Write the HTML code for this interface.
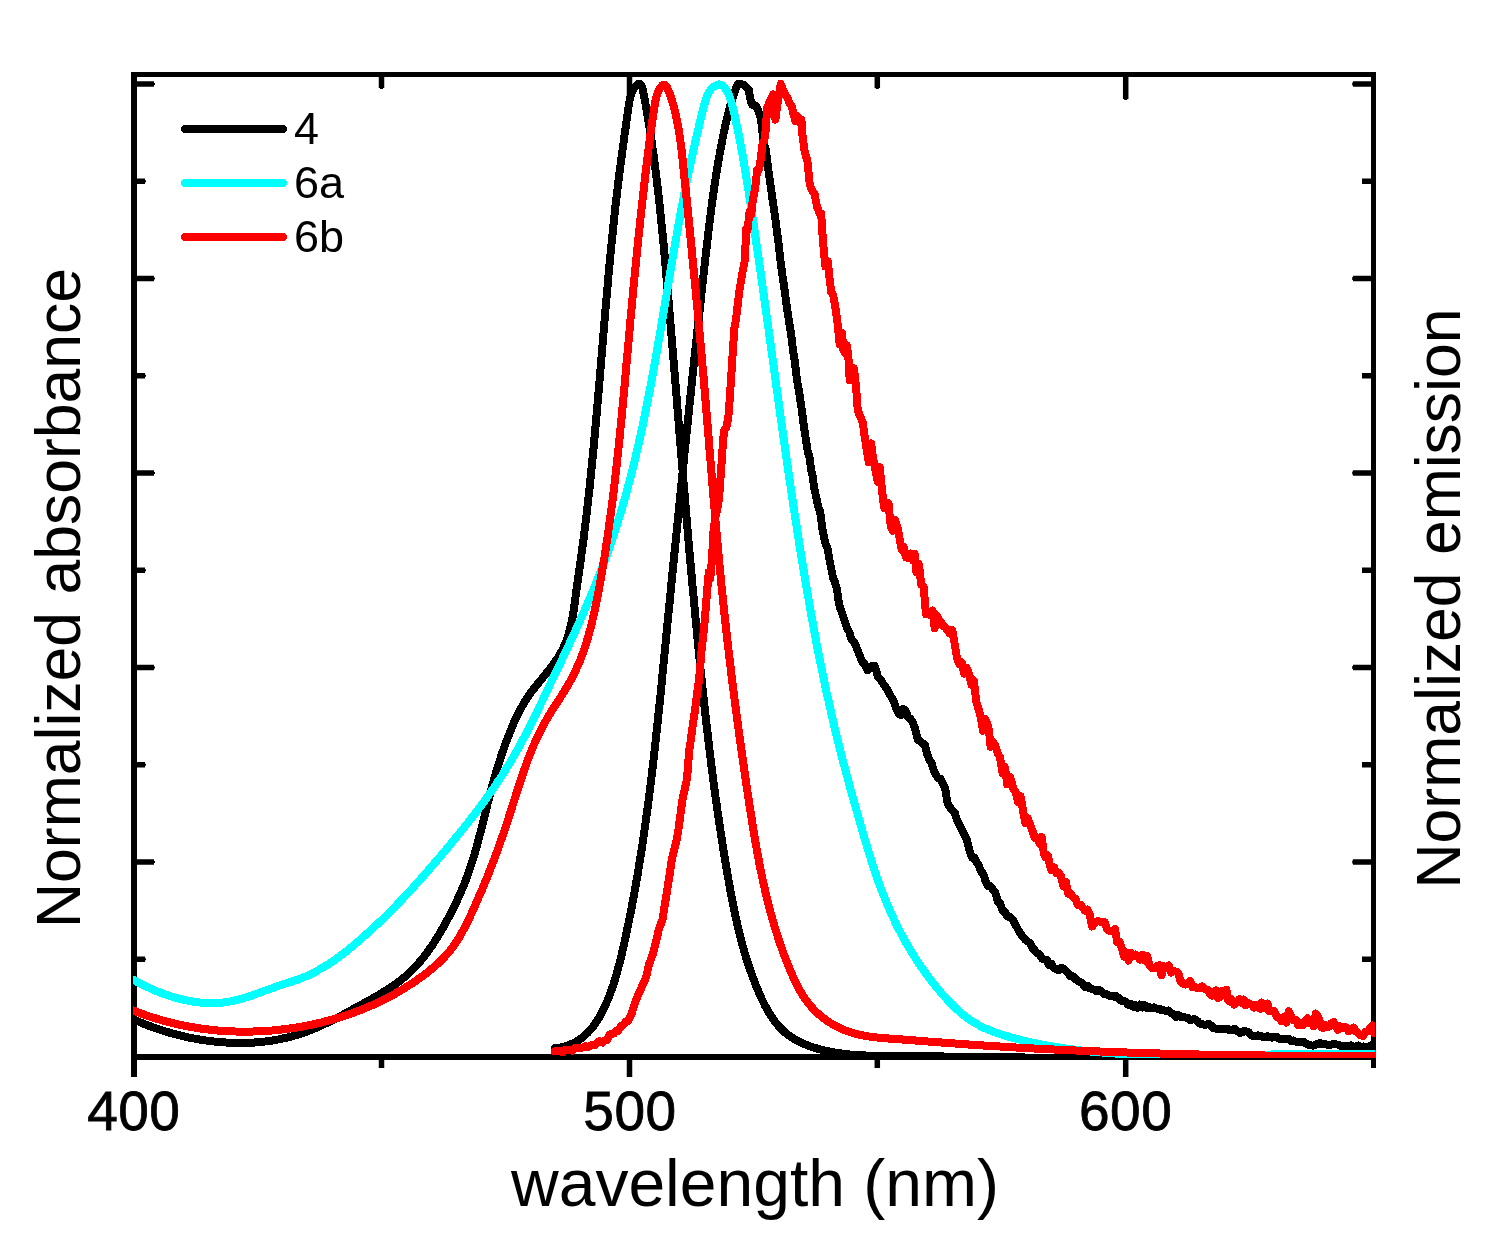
<!DOCTYPE html>
<html><head><meta charset="utf-8"><title>Normalized absorbance and emission</title>
<style>
html,body{margin:0;padding:0;background:#fff;}
body{width:1501px;height:1255px;overflow:hidden;position:relative;font-family:"Liberation Sans",sans-serif;color:#000;}
svg{position:absolute;left:0;top:0;display:block;}
text{font-family:"Liberation Sans",sans-serif;fill:#000;}
.curves path{fill:none;stroke-width:8;stroke-linejoin:round;stroke-linecap:round;shape-rendering:crispEdges;}
.ticks rect{fill:#000;}
.tl{stroke:#000;stroke-width:0.8;letter-spacing:0.5px;}
.legend line{stroke-width:8;stroke-linecap:round;shape-rendering:crispEdges;}
</style></head><body>
<svg width="1501" height="1255" viewBox="0 0 1501 1255">
<defs><clipPath id="clip"><rect x="133" y="60" width="1242.5" height="998"/></clipPath></defs>
<g class="frame" fill="#000"><rect x="131" y="72" width="1245" height="5"/><rect x="131" y="1054" width="1245" height="6"/><rect x="131" y="72" width="6" height="988"/><rect x="1371" y="72" width="5" height="988"/></g>
<g class="ticks"><rect x="136.00" y="81.25" width="18.00" height="5.50"/><rect x="154.00" y="83.00" width="1.00" height="2.00"/><rect x="1353.00" y="81.25" width="19.00" height="5.50"/><rect x="1352.20" y="82.50" width="0.80" height="3.00"/><rect x="136.00" y="178.50" width="9.00" height="5.50"/><rect x="145.00" y="180.25" width="1.00" height="2.00"/><rect x="1362.00" y="178.50" width="10.00" height="5.50"/><rect x="136.00" y="275.75" width="18.00" height="5.50"/><rect x="154.00" y="277.50" width="1.00" height="2.00"/><rect x="1353.00" y="275.75" width="19.00" height="5.50"/><rect x="1352.20" y="277.00" width="0.80" height="3.00"/><rect x="136.00" y="373.00" width="9.00" height="5.50"/><rect x="145.00" y="374.75" width="1.00" height="2.00"/><rect x="1362.00" y="373.00" width="10.00" height="5.50"/><rect x="136.00" y="470.25" width="18.00" height="5.50"/><rect x="154.00" y="472.00" width="1.00" height="2.00"/><rect x="1353.00" y="470.25" width="19.00" height="5.50"/><rect x="1352.20" y="471.50" width="0.80" height="3.00"/><rect x="136.00" y="567.50" width="9.00" height="5.50"/><rect x="145.00" y="569.25" width="1.00" height="2.00"/><rect x="1362.00" y="567.50" width="10.00" height="5.50"/><rect x="136.00" y="664.75" width="18.00" height="5.50"/><rect x="154.00" y="666.50" width="1.00" height="2.00"/><rect x="1353.00" y="664.75" width="19.00" height="5.50"/><rect x="1352.20" y="666.00" width="0.80" height="3.00"/><rect x="136.00" y="762.00" width="9.00" height="5.50"/><rect x="145.00" y="763.75" width="1.00" height="2.00"/><rect x="1362.00" y="762.00" width="10.00" height="5.50"/><rect x="136.00" y="859.25" width="18.00" height="5.50"/><rect x="154.00" y="861.00" width="1.00" height="2.00"/><rect x="1353.00" y="859.25" width="19.00" height="5.50"/><rect x="1352.20" y="860.50" width="0.80" height="3.00"/><rect x="136.00" y="956.50" width="9.00" height="5.50"/><rect x="145.00" y="958.25" width="1.00" height="2.00"/><rect x="1362.00" y="956.50" width="10.00" height="5.50"/><rect x="131.00" y="1059.00" width="6.00" height="18.00"/><rect x="378.75" y="1059.00" width="5.50" height="9.00"/><rect x="378.75" y="76.00" width="5.50" height="12.00"/><rect x="380.00" y="88.00" width="3.00" height="1.00"/><rect x="626.75" y="1059.00" width="5.50" height="18.00"/><rect x="626.75" y="76.00" width="5.50" height="23.00"/><rect x="628.00" y="99.00" width="3.00" height="1.00"/><rect x="874.55" y="1059.00" width="5.50" height="9.00"/><rect x="874.55" y="76.00" width="5.50" height="12.00"/><rect x="875.80" y="88.00" width="3.00" height="1.00"/><rect x="1122.95" y="1059.00" width="5.50" height="18.00"/><rect x="1122.95" y="76.00" width="5.50" height="23.00"/><rect x="1124.20" y="99.00" width="3.00" height="1.00"/><rect x="1371.00" y="1059.00" width="5.00" height="9.00"/></g>
<g class="curves" clip-path="url(#clip)">
<path d="M133.3,1019.3L136.0,1020.5L138.6,1021.6L141.3,1022.8L144.0,1023.9L146.8,1025.0L149.5,1026.0L152.3,1027.0L155.1,1028.0L157.9,1029.0L160.7,1029.9L163.5,1030.8L166.4,1031.7L169.3,1032.6L172.1,1033.4L175.0,1034.2L178.0,1034.9L180.9,1035.7L183.8,1036.4L186.8,1037.0L189.7,1037.7L192.7,1038.3L195.7,1038.8L198.7,1039.4L201.7,1039.9L204.7,1040.3L207.7,1040.7L210.7,1041.1L213.7,1041.5L216.7,1041.8L219.8,1042.1L222.8,1042.3L225.8,1042.5L228.9,1042.7L231.9,1042.8L234.9,1042.9L237.9,1043.0L241.0,1043.0L244.0,1042.9L247.0,1042.8L250.0,1042.7L253.0,1042.6L256.0,1042.4L259.0,1042.1L262.0,1041.8L265.0,1041.5L268.0,1041.1L270.9,1040.7L273.9,1040.3L276.8,1039.7L279.7,1039.2L282.6,1038.6L285.5,1037.9L288.4,1037.2L291.3,1036.5L294.2,1035.7L297.0,1034.9L299.8,1034.0L302.6,1033.1L305.4,1032.1L308.2,1031.0L310.9,1030.0L313.7,1028.9L316.4,1027.7L319.1,1026.5L321.8,1025.3L324.5,1024.0L327.2,1022.8L329.9,1021.5L332.6,1020.1L335.2,1018.8L337.9,1017.4L340.6,1016.0L343.2,1014.6L345.9,1013.1L348.5,1011.7L351.2,1010.3L353.8,1008.8L356.5,1007.3L359.1,1005.9L361.8,1004.4L364.5,1002.9L367.1,1001.5L369.8,1000.0L372.5,998.5L375.1,997.0L377.7,995.5L380.3,993.9L382.9,992.3L385.5,990.8L388.0,989.1L390.6,987.5L393.0,985.8L395.5,984.1L397.9,982.3L400.3,980.5L402.6,978.7L404.9,976.8L407.1,974.8L409.3,972.8L411.4,970.8L413.5,968.7L415.5,966.5L417.5,964.4L419.4,962.1L421.4,959.9L423.2,957.6L425.0,955.2L426.8,952.9L428.6,950.5L430.3,948.0L432.0,945.6L433.6,943.1L435.3,940.6L436.9,938.0L438.4,935.5L440.0,932.9L441.5,930.3L443.0,927.7L444.5,925.0L445.9,922.4L447.4,919.7L448.8,917.1L450.2,914.4L451.6,911.7L452.9,909.0L454.3,906.3L455.6,903.6L456.9,900.9L458.1,898.1L459.4,895.4L460.6,892.6L461.8,889.9L463.0,887.1L464.1,884.3L465.2,881.6L466.3,878.8L467.3,876.0L468.3,873.1L469.3,870.3L470.3,867.5L471.2,864.7L472.1,861.8L473.0,859.0L473.9,856.1L474.8,853.2L475.6,850.4L476.4,847.5L477.2,844.6L478.0,841.7L478.8,838.9L479.5,836.0L480.3,833.1L481.0,830.2L481.7,827.3L482.5,824.4L483.2,821.5L483.9,818.6L484.6,815.7L485.4,812.8L486.1,809.9L486.8,807.0L487.5,804.0L488.3,801.1L489.0,798.2L489.7,795.3L490.5,792.4L491.3,789.5L492.0,786.6L492.8,783.7L493.6,780.9L494.5,778.0L495.3,775.1L496.1,772.2L497.0,769.3L497.9,766.5L498.8,763.6L499.7,760.7L500.6,757.9L501.5,755.1L502.5,752.2L503.5,749.4L504.5,746.6L505.5,743.8L506.5,741.0L507.6,738.2L508.7,735.4L509.8,732.6L510.9,729.8L512.0,727.1L513.2,724.3L514.4,721.6L515.7,718.9L516.9,716.2L518.3,713.6L519.6,710.9L521.0,708.3L522.5,705.7L524.0,703.1L525.5,700.6L527.1,698.1L528.8,695.6L530.5,693.2L532.3,690.7L534.1,688.4L536.0,686.0L537.9,683.6L539.8,681.3L541.7,679.0L543.6,676.6L545.5,674.3L547.4,671.9L549.3,669.6L551.1,667.2L552.9,664.8L554.6,662.4L556.3,660.0L558.0,657.5L559.5,655.0L561.0,652.4L562.4,649.8L563.7,647.2L564.8,644.5L566.0,641.7L567.0,638.9L567.9,636.1L568.8,633.3L569.6,630.4L570.4,627.4L571.0,624.5L571.7,621.5L572.3,618.5L572.8,615.5L573.3,612.5L573.8,609.5L574.3,606.5L574.7,603.4L575.1,600.4L575.5,597.3L575.9,594.3L576.3,591.3L576.7,588.3L577.1,585.3L577.5,582.3L578.0,579.3L578.4,576.3L578.8,573.3L579.2,570.4L579.7,567.4L580.1,564.5L580.5,561.5L580.9,558.6L581.3,555.6L581.7,552.7L582.1,549.7L582.5,546.7L582.9,543.8L583.3,540.8L583.7,537.9L584.0,534.9L584.4,531.9L584.8,529.0L585.2,526.0L585.5,523.0L585.9,520.1L586.2,517.1L586.6,514.1L586.9,511.2L587.3,508.2L587.6,505.2L587.9,502.3L588.3,499.3L588.6,496.3L588.9,493.3L589.3,490.4L589.6,487.4L589.9,484.4L590.2,481.4L590.5,478.5L590.8,475.5L591.1,472.5L591.4,469.5L591.7,466.5L592.0,463.6L592.3,460.6L592.6,457.6L592.9,454.6L593.2,451.6L593.5,448.6L593.8,445.6L594.0,442.7L594.3,439.7L594.6,436.7L594.9,433.7L595.1,430.7L595.4,427.7L595.7,424.7L596.0,421.8L596.2,418.8L596.5,415.8L596.7,412.8L597.0,409.8L597.3,406.8L597.5,403.8L597.8,400.8L598.0,397.8L598.3,394.8L598.6,391.8L598.8,388.9L599.1,385.9L599.3,382.9L599.6,379.9L599.8,376.9L600.1,373.9L600.3,370.9L600.6,367.9L600.8,364.9L601.1,361.9L601.3,358.9L601.6,355.9L601.8,352.9L602.1,349.9L602.3,347.0L602.6,344.0L602.8,341.0L603.1,338.0L603.3,335.0L603.6,332.0L603.8,329.0L604.1,326.0L604.3,323.0L604.6,320.0L604.8,317.0L605.1,314.0L605.4,311.0L605.6,308.1L605.9,305.1L606.1,302.1L606.4,299.1L606.7,296.1L606.9,293.1L607.2,290.1L607.5,287.1L607.7,284.1L608.0,281.1L608.3,278.2L608.5,275.2L608.8,272.2L609.1,269.2L609.4,266.2L609.6,263.2L609.9,260.2L610.2,257.3L610.5,254.3L610.8,251.3L611.1,248.3L611.4,245.3L611.7,242.3L612.0,239.4L612.3,236.4L612.6,233.4L612.9,230.4L613.2,227.4L613.5,224.5L613.8,221.5L614.1,218.5L614.5,215.5L614.8,212.6L615.1,209.6L615.4,206.6L615.8,203.6L616.1,200.7L616.5,197.7L616.8,194.7L617.2,191.8L617.5,188.8L617.9,185.8L618.2,182.9L618.6,179.9L619.0,176.9L619.3,174.0L619.7,171.0L620.1,168.0L620.5,165.1L620.9,162.1L621.3,159.2L621.7,156.2L622.1,153.2L622.5,150.3L622.9,147.3L623.3,144.3L623.7,141.4L624.1,138.4L624.5,135.4L624.9,132.4L625.4,129.4L625.8,126.4L626.2,123.4L626.6,120.3L627.1,117.3L627.5,114.3L627.9,111.2L628.3,108.2L628.8,105.1L629.3,102.1L629.9,99.1L630.7,96.2L631.6,93.4L632.7,90.7L634.1,88.2L635.8,85.9L637.8,84.1L639.8,84.1L641.5,85.8L642.5,88.4L643.2,91.4L643.7,94.4L644.3,97.5L644.9,100.5L645.4,103.5L646.0,106.6L646.5,109.6L647.0,112.6L647.5,115.6L648.0,118.6L648.5,121.6L649.0,124.6L649.5,127.6L650.0,130.6L650.4,133.5L650.9,136.5L651.3,139.5L651.8,142.5L652.2,145.5L652.6,148.4L653.1,151.4L653.5,154.4L653.9,157.3L654.3,160.3L654.7,163.2L655.0,166.2L655.4,169.2L655.8,172.1L656.2,175.1L656.5,178.0L656.9,181.0L657.2,184.0L657.6,186.9L657.9,189.9L658.3,192.9L658.6,195.8L658.9,198.8L659.3,201.8L659.6,204.7L659.9,207.7L660.2,210.7L660.5,213.6L660.8,216.6L661.1,219.6L661.4,222.6L661.7,225.6L662.0,228.5L662.3,231.5L662.6,234.5L662.9,237.5L663.2,240.5L663.5,243.5L663.7,246.4L664.0,249.4L664.3,252.4L664.6,255.4L664.8,258.4L665.1,261.4L665.4,264.4L665.7,267.4L665.9,270.4L666.2,273.4L666.4,276.4L666.7,279.3L667.0,282.3L667.2,285.3L667.5,288.3L667.7,291.3L668.0,294.3L668.3,297.3L668.5,300.3L668.8,303.3L669.0,306.3L669.3,309.3L669.5,312.3L669.8,315.3L670.0,318.2L670.3,321.2L670.5,324.2L670.8,327.2L671.0,330.2L671.3,333.2L671.5,336.2L671.8,339.2L672.0,342.2L672.3,345.2L672.5,348.2L672.8,351.1L673.0,354.1L673.3,357.1L673.5,360.1L673.8,363.1L674.0,366.1L674.3,369.1L674.5,372.1L674.8,375.1L675.0,378.1L675.2,381.1L675.5,384.0L675.7,387.0L676.0,390.0L676.2,393.0L676.5,396.0L676.7,399.0L677.0,402.0L677.2,405.0L677.4,408.0L677.7,410.9L677.9,413.9L678.2,416.9L678.4,419.9L678.7,422.9L678.9,425.9L679.1,428.9L679.4,431.9L679.6,434.8L679.9,437.8L680.1,440.8L680.4,443.8L680.6,446.8L680.9,449.8L681.1,452.8L681.3,455.8L681.6,458.8L681.8,461.7L682.1,464.7L682.3,467.7L682.6,470.7L682.8,473.7L683.1,476.7L683.3,479.7L683.6,482.7L683.8,485.6L684.1,488.6L684.3,491.6L684.6,494.6L684.8,497.6L685.1,500.6L685.3,503.6L685.6,506.5L685.8,509.5L686.1,512.5L686.3,515.5L686.6,518.5L686.8,521.5L687.1,524.5L687.4,527.5L687.6,530.4L687.9,533.4L688.1,536.4L688.4,539.4L688.6,542.4L688.9,545.4L689.2,548.4L689.4,551.3L689.7,554.3L690.0,557.3L690.2,560.3L690.5,563.3L690.8,566.3L691.0,569.3L691.3,572.2L691.6,575.2L691.8,578.2L692.1,581.2L692.4,584.2L692.6,587.2L692.9,590.2L693.2,593.1L693.5,596.1L693.7,599.1L694.0,602.1L694.3,605.1L694.6,608.1L694.9,611.1L695.1,614.0L695.4,617.0L695.7,620.0L696.0,623.0L696.3,626.0L696.6,629.0L696.9,631.9L697.1,634.9L697.4,637.9L697.7,640.9L698.0,643.9L698.3,646.9L698.6,649.9L698.9,652.8L699.2,655.8L699.5,658.8L699.8,661.8L700.1,664.8L700.4,667.8L700.7,670.8L701.0,673.7L701.3,676.7L701.7,679.7L702.0,682.7L702.3,685.7L702.6,688.7L702.9,691.6L703.2,694.6L703.6,697.6L703.9,700.6L704.2,703.6L704.5,706.6L704.9,709.6L705.2,712.5L705.5,715.5L705.9,718.5L706.2,721.5L706.5,724.5L706.9,727.5L707.2,730.4L707.6,733.4L707.9,736.4L708.3,739.4L708.6,742.4L709.0,745.3L709.3,748.3L709.7,751.3L710.0,754.3L710.4,757.3L710.8,760.2L711.1,763.2L711.5,766.2L711.9,769.2L712.3,772.2L712.7,775.1L713.0,778.1L713.4,781.1L713.8,784.1L714.2,787.0L714.6,790.0L715.0,793.0L715.4,796.0L715.8,798.9L716.2,801.9L716.7,804.9L717.1,807.8L717.5,810.8L717.9,813.8L718.4,816.7L718.8,819.7L719.2,822.7L719.7,825.6L720.1,828.6L720.6,831.6L721.0,834.5L721.5,837.5L721.9,840.4L722.4,843.4L722.9,846.4L723.3,849.3L723.8,852.3L724.3,855.2L724.8,858.2L725.3,861.1L725.8,864.1L726.3,867.0L726.8,870.0L727.3,872.9L727.8,875.9L728.3,878.8L728.8,881.8L729.3,884.7L729.9,887.7L730.4,890.6L731.0,893.5L731.5,896.5L732.1,899.4L732.6,902.3L733.2,905.3L733.8,908.2L734.4,911.1L735.0,914.1L735.7,917.0L736.3,919.9L737.0,922.8L737.6,925.7L738.3,928.6L739.0,931.6L739.7,934.5L740.5,937.4L741.2,940.3L742.0,943.2L742.8,946.1L743.6,948.9L744.4,951.8L745.2,954.7L746.1,957.6L747.0,960.5L747.9,963.3L748.9,966.2L749.8,969.0L750.8,971.9L751.9,974.7L752.9,977.6L754.0,980.4L755.1,983.3L756.2,986.1L757.4,988.9L758.5,991.7L759.8,994.5L761.0,997.3L762.3,1000.1L763.7,1002.9L765.0,1005.6L766.5,1008.3L768.0,1010.9L769.5,1013.5L771.1,1016.0L772.8,1018.5L774.5,1020.9L776.3,1023.2L778.2,1025.5L780.1,1027.7L782.2,1029.8L784.3,1031.8L786.5,1033.7L788.8,1035.4L791.2,1037.1L793.7,1038.7L796.2,1040.2L798.9,1041.6L801.5,1042.9L804.3,1044.1L807.1,1045.2L809.9,1046.3L812.8,1047.2L815.7,1048.1L818.6,1049.0L821.5,1049.7L824.5,1050.4L827.4,1051.1L830.4,1051.7L833.3,1052.2L836.3,1052.7L839.3,1053.2L842.3,1053.6L845.2,1053.9L848.2,1054.3L851.2,1054.6L854.2,1054.8L857.2,1055.0L860.2,1055.2L863.1,1055.4L866.1,1055.5L869.1,1055.6L872.1,1055.7L875.1,1055.8L878.1,1055.9L881.1,1055.9L884.1,1056.0L887.1,1056.0L890.1,1056.0L893.1,1056.0L896.2,1056.1L899.2,1056.1L902.2,1056.1L905.2,1056.1L908.2,1056.1L911.2,1056.2L914.2,1056.2L917.2,1056.2L920.2,1056.2L923.2,1056.3L926.2,1056.3L929.2,1056.3L932.2,1056.3L935.2,1056.4L938.2,1056.4L941.2,1056.4L944.2,1056.5L947.2,1056.5L950.2,1056.5L953.2,1056.6L956.2,1056.6L959.1,1056.6L962.1,1056.7L965.1,1056.7L968.1,1056.7L971.1,1056.8L974.1,1056.8L977.1,1056.8L980.1,1056.9L983.1,1056.9L986.1,1057.0L989.1,1057.0L992.1,1057.0L995.1,1057.1L998.1,1057.1L1001.1,1057.1L1004.1,1057.2L1007.1,1057.2L1010.1,1057.3L1013.1,1057.3L1016.1,1057.3L1019.1,1057.4L1022.1,1057.4L1025.1,1057.5L1028.1,1057.5L1031.0,1057.6L1034.0,1057.6L1037.0,1057.6L1040.0,1057.7L1043.0,1057.7L1046.0,1057.8L1049.0,1057.8L1052.0,1057.8L1055.0,1057.9L1058.0,1057.9L1061.0,1058.0L1064.0,1058.0L1067.0,1058.0L1070.0,1058.1L1073.0,1058.1L1076.0,1058.2L1078.9,1058.2L1081.9,1058.2L1084.9,1058.3L1087.9,1058.3L1090.9,1058.4L1093.9,1058.4L1096.9,1058.4L1099.9,1058.5L1102.9,1058.5L1105.9,1058.5L1108.9,1058.6L1111.9,1058.6L1114.9,1058.6L1117.9,1058.7L1120.9,1058.7L1123.9,1058.7L1126.8,1058.8L1129.8,1058.8L1132.8,1058.8L1135.8,1058.9L1138.8,1058.9L1141.8,1058.9L1144.8,1058.9L1147.8,1059.0L1150.8,1059.0L1153.8,1059.0L1156.8,1059.0L1159.8,1059.1L1162.8,1059.1L1165.8,1059.1L1168.8,1059.1L1171.8,1059.2L1174.8,1059.2L1177.8,1059.2L1180.8,1059.2L1183.8,1059.2L1186.7,1059.2L1189.7,1059.2L1192.7,1059.3L1195.7,1059.3L1198.7,1059.3L1201.7,1059.3L1204.7,1059.3L1207.7,1059.3L1210.7,1059.3L1213.7,1059.3L1216.7,1059.3L1219.7,1059.3L1222.7,1059.3L1225.7,1059.3L1228.7,1059.3L1231.7,1059.3L1234.7,1059.3L1237.7,1059.3L1240.7,1059.3L1243.7,1059.3L1246.7,1059.3L1249.7,1059.2L1252.7,1059.2L1255.7,1059.2L1258.7,1059.2L1261.7,1059.2L1264.7,1059.1L1267.7,1059.1L1270.7,1059.1L1273.7,1059.1L1276.7,1059.0L1279.7,1059.0L1282.7,1059.0L1285.7,1058.9L1288.7,1058.9L1291.7,1058.9L1294.7,1058.8L1297.8,1058.8L1300.8,1058.8L1303.8,1058.7L1306.8,1058.7L1309.8,1058.6L1312.8,1058.6L1315.8,1058.5L1318.8,1058.5L1321.8,1058.4L1324.8,1058.3L1327.8,1058.3L1330.8,1058.2L1333.8,1058.1L1336.8,1058.1L1339.9,1058.0L1342.9,1057.9L1345.9,1057.9L1348.9,1057.8L1351.9,1057.7L1354.9,1057.6L1357.9,1057.5L1360.9,1057.5L1363.9,1057.4L1367.0,1057.3L1370.0,1057.2L1373.0,1057.1L1376.0,1057.0" stroke="#000"/>
<path d="M554.7,1048.3L558.1,1047.9L561.3,1047.3L564.5,1046.5L567.5,1045.5L570.3,1044.5L573.1,1043.2L575.7,1041.9L578.2,1040.4L580.6,1038.7L582.9,1037.0L585.1,1035.1L587.2,1033.2L589.2,1031.1L591.1,1029.0L592.9,1026.7L594.6,1024.4L596.3,1022.0L597.9,1019.6L599.4,1017.1L600.8,1014.5L602.2,1011.9L603.5,1009.2L604.8,1006.5L606.0,1003.8L607.2,1001.1L608.4,998.3L609.5,995.5L610.5,992.7L611.5,989.9L612.5,987.1L613.5,984.3L614.4,981.4L615.3,978.6L616.1,975.7L617.0,972.8L617.8,969.9L618.5,967.0L619.3,964.1L620.0,961.2L620.8,958.3L621.5,955.3L622.2,952.4L622.8,949.5L623.5,946.5L624.2,943.6L624.8,940.7L625.4,937.7L626.1,934.8L626.7,931.8L627.3,928.9L627.9,926.0L628.5,923.0L629.1,920.1L629.7,917.1L630.3,914.2L630.9,911.2L631.5,908.3L632.0,905.3L632.6,902.4L633.1,899.4L633.7,896.5L634.2,893.5L634.8,890.6L635.3,887.6L635.8,884.7L636.3,881.7L636.9,878.8L637.4,875.8L637.9,872.9L638.4,869.9L638.8,866.9L639.3,864.0L639.8,861.0L640.3,858.1L640.7,855.1L641.2,852.2L641.7,849.2L642.1,846.2L642.6,843.3L643.0,840.3L643.5,837.4L643.9,834.4L644.3,831.4L644.7,828.5L645.2,825.5L645.6,822.5L646.0,819.6L646.4,816.6L646.8,813.7L647.2,810.7L647.6,807.7L648.0,804.8L648.4,801.8L648.8,798.8L649.2,795.9L649.5,792.9L649.9,789.9L650.3,787.0L650.6,784.0L651.0,781.0L651.4,778.0L651.7,775.1L652.1,772.1L652.4,769.1L652.8,766.2L653.1,763.2L653.5,760.2L653.8,757.3L654.1,754.3L654.5,751.3L654.8,748.3L655.1,745.4L655.5,742.4L655.8,739.4L656.1,736.4L656.4,733.5L656.8,730.5L657.1,727.5L657.4,724.5L657.7,721.6L658.0,718.6L658.3,715.6L658.6,712.6L658.9,709.7L659.3,706.7L659.6,703.7L659.9,700.7L660.2,697.8L660.5,694.8L660.8,691.8L661.1,688.8L661.4,685.9L661.7,682.9L662.0,679.9L662.2,676.9L662.5,674.0L662.8,671.0L663.1,668.0L663.4,665.0L663.7,662.0L664.0,659.1L664.3,656.1L664.6,653.1L664.9,650.1L665.2,647.2L665.5,644.2L665.8,641.2L666.1,638.2L666.4,635.2L666.6,632.3L666.9,629.3L667.2,626.3L667.5,623.3L667.8,620.4L668.1,617.4L668.4,614.4L668.7,611.4L669.0,608.4L669.3,605.5L669.6,602.5L669.9,599.5L670.2,596.5L670.5,593.5L670.8,590.6L671.0,587.6L671.3,584.6L671.6,581.6L671.9,578.7L672.2,575.7L672.5,572.7L672.8,569.7L673.1,566.7L673.4,563.8L673.7,560.8L674.0,557.8L674.3,554.8L674.6,551.8L674.9,548.9L675.2,545.9L675.5,542.9L675.8,539.9L676.1,537.0L676.4,534.0L676.7,531.0L677.0,528.0L677.3,525.0L677.6,522.1L677.9,519.1L678.2,516.1L678.5,513.1L678.8,510.1L679.1,507.2L679.4,504.2L679.7,501.2L680.0,498.2L680.3,495.2L680.6,492.3L680.9,489.3L681.2,486.3L681.5,483.3L681.8,480.4L682.1,477.4L682.4,474.4L682.7,471.4L683.0,468.4L683.3,465.5L683.6,462.5L683.9,459.5L684.2,456.5L684.5,453.5L684.8,450.6L685.1,447.6L685.4,444.6L685.7,441.6L686.0,438.7L686.3,435.7L686.6,432.7L686.9,429.7L687.2,426.7L687.6,423.8L687.9,420.8L688.2,417.8L688.5,414.8L688.8,411.8L689.1,408.9L689.4,405.9L689.7,402.9L690.0,399.9L690.3,396.9L690.7,394.0L691.0,391.0L691.3,388.0L691.6,385.0L691.9,382.1L692.2,379.1L692.5,376.1L692.9,373.1L693.2,370.1L693.5,367.2L693.8,364.2L694.1,361.2L694.4,358.2L694.8,355.2L695.1,352.3L695.4,349.3L695.7,346.3L696.0,343.3L696.4,340.4L696.7,337.4L697.0,334.4L697.3,331.4L697.6,328.4L698.0,325.5L698.3,322.5L698.6,319.5L698.9,316.5L699.3,313.6L699.6,310.6L699.9,307.6L700.2,304.6L700.6,301.6L700.9,298.7L701.2,295.7L701.5,292.7L701.9,289.7L702.2,286.8L702.5,283.8L702.9,280.8L703.2,277.8L703.5,274.8L703.9,271.9L704.2,268.9L704.5,265.9L704.9,262.9L705.2,260.0L705.5,257.0L705.9,254.0L706.2,251.0L706.6,248.1L706.9,245.1L707.2,242.1L707.6,239.1L707.9,236.2L708.3,233.2L708.6,230.2L709.0,227.2L709.4,224.3L709.7,221.3L710.1,218.3L710.5,215.3L710.8,212.4L711.2,209.4L711.6,206.4L712.0,203.5L712.4,200.5L712.8,197.5L713.2,194.6L713.6,191.6L714.1,188.7L714.5,185.7L714.9,182.7L715.4,179.8L715.8,176.8L716.3,173.9L716.8,170.9L717.3,168.0L717.7,165.0L718.2,162.1L718.8,159.1L719.3,156.2L719.8,153.2L720.3,150.3L720.9,147.4L721.5,144.4L722.0,141.5L722.6,138.6L723.2,135.6L723.8,132.7L724.4,129.8L725.1,126.9L725.7,123.9L726.4,121.0L727.1,118.1L727.8,115.2L728.5,112.3L729.2,109.4L730.0,106.5L730.8,103.7L731.6,100.8L732.5,98.0L733.5,95.2L734.4,92.4L735.4,89.6L736.5,86.8L737.6,84.1L741.6,84.3L743.2,84.8L744.7,85.4L746.8,87.8L748.9,90.2L750.1,98.0L751.9,104.6L754.0,105.2L756.1,105.8L758.5,111.2L760.9,118.4L762.1,128.0L762.8,136.4L763.6,141.7L766.0,150.8L768.4,169.9L770.5,184.9L772.6,199.9L774.7,214.1L776.8,229.9L778.6,243.6L780.4,260.0L782.5,275.8L784.6,290.0L786.7,306.0L788.8,320.0L790.9,332.5L793.0,350.0L795.0,363.0L797.0,380.0L799.4,393.9L801.8,410.0L803.9,426.5L806.0,440.0L807.7,451.2L809.5,457.2L811.2,470.0L812.7,476.6L814.2,488.0L816.8,500.0L818.5,507.6L820.2,512.0L822.6,530.0L825.0,542.2L827.5,548.0L829.5,560.0L831.3,568.9L833.1,578.0L835.1,582.6L837.1,590.0L838.6,601.2L840.1,608.0L842.2,613.4L844.3,620.0L846.8,627.4L849.3,632.0L851.2,639.0L853.2,641.2L855.1,644.0L857.5,650.1L859.9,656.0L862.4,662.2L865.0,664.4L867.5,670.4L869.9,668.5L872.2,666.1L874.6,665.6L876.4,671.2L878.2,677.5L880.6,679.8L883.0,683.5L885.4,687.0L887.8,690.3L890.2,695.2L892.6,699.0L894.6,703.9L896.5,709.1L898.5,713.4L900.9,715.1L903.3,709.0L905.7,711.0L908.1,717.3L910.5,718.6L912.9,723.0L915.3,729.2L917.7,739.7L920.1,741.0L922.4,743.1L924.8,744.5L927.2,754.1L929.6,760.0L931.6,763.0L933.6,769.9L935.6,774.3L938.0,778.1L940.4,778.7L942.8,783.1L945.2,788.7L947.5,803.0L949.9,807.2L952.3,810.5L954.7,812.6L957.1,820.3L959.5,824.5L961.9,830.1L964.3,834.7L966.7,838.9L968.5,846.2L970.3,853.2L972.4,858.0L974.5,857.9L976.5,862.0L978.6,865.2L981.0,871.3L983.4,874.0L985.8,881.9L988.2,886.5L990.6,886.2L993.0,889.9L995.4,892.7L997.8,901.5L1000.1,903.5L1002.5,910.6L1004.9,911.9L1007.3,916.7L1009.7,916.6L1012.1,918.7L1014.5,923.2L1016.9,927.3L1018.9,931.2L1020.9,934.3L1022.9,936.9L1025.3,939.7L1027.6,941.4L1030.0,943.0L1032.4,947.8L1034.8,950.4L1037.2,953.0L1039.6,954.5L1042.0,958.4L1044.4,959.4L1046.8,959.9L1049.1,965.0L1051.5,963.9L1053.9,968.0L1056.3,969.1L1058.6,970.2L1061.0,968.0L1063.4,968.6L1065.8,970.9L1068.2,973.0L1070.6,976.4L1073.0,976.3L1075.4,979.0L1077.8,981.0L1080.2,981.9L1082.6,983.6L1085.0,986.9L1087.4,985.7L1089.8,988.3L1092.2,989.1L1094.6,990.0L1096.9,991.4L1099.3,989.8L1101.7,991.9L1104.1,994.1L1106.5,994.3L1108.9,995.7L1111.3,995.8L1113.7,996.7L1116.1,995.9L1118.5,998.0L1120.9,1000.6L1123.2,1000.8L1125.6,1001.7L1128.0,1004.7L1130.4,1003.8L1132.8,1006.6L1135.2,1005.2L1137.6,1008.0L1140.0,1004.6L1142.4,1007.4L1144.8,1005.3L1147.2,1008.3L1149.5,1007.1L1151.9,1008.0L1154.3,1007.4L1156.7,1008.7L1159.1,1008.7L1161.5,1010.3L1163.9,1010.4L1166.3,1011.0L1168.7,1010.4L1171.1,1013.2L1173.4,1014.2L1175.8,1016.9L1178.2,1014.9L1180.6,1017.0L1183.0,1017.4L1185.4,1017.4L1187.8,1018.1L1190.2,1020.3L1192.6,1019.4L1195.0,1019.4L1197.5,1021.1L1200.0,1023.8L1202.4,1024.1L1204.8,1024.9L1207.2,1024.4L1209.4,1024.3L1211.5,1025.8L1213.7,1028.4L1215.8,1028.6L1218.0,1028.6L1220.4,1028.9L1222.8,1028.9L1225.2,1029.5L1227.6,1028.6L1230.0,1030.4L1232.4,1030.4L1234.8,1028.6L1237.2,1031.0L1239.6,1032.8L1242.0,1032.5L1244.4,1030.8L1246.8,1031.6L1248.8,1032.3L1250.8,1034.9L1252.8,1035.8L1255.2,1036.0L1257.6,1035.4L1260.0,1035.8L1262.4,1036.6L1264.8,1037.4L1267.2,1036.3L1269.6,1036.8L1272.0,1037.6L1274.4,1037.0L1276.8,1037.0L1279.2,1038.9L1281.6,1038.8L1284.0,1038.9L1286.4,1038.8L1288.8,1039.0L1291.2,1041.2L1293.4,1040.5L1295.5,1041.6L1297.7,1041.6L1299.8,1042.3L1302.0,1042.4L1304.2,1042.2L1306.4,1043.7L1308.6,1045.1L1310.8,1045.3L1313.0,1045.7L1315.2,1044.8L1317.6,1044.0L1320.0,1043.0L1322.4,1044.4L1324.8,1043.9L1327.2,1044.8L1329.6,1045.3L1332.0,1044.2L1334.4,1044.2L1336.8,1044.5L1339.2,1044.8L1341.6,1046.2L1344.0,1046.0L1346.4,1046.3L1348.8,1046.4L1351.2,1045.4L1353.6,1046.6L1356.0,1046.6L1358.5,1045.4L1361.0,1047.8L1363.5,1046.5L1366.0,1046.8L1368.5,1046.5L1371.0,1045.3L1373.5,1045.5L1376.0,1046.6" stroke="#000"/>
<path d="M133.1,979.6L135.6,981.0L138.1,982.4L140.7,983.7L143.3,985.1L146.0,986.4L148.6,987.6L151.4,988.9L154.1,990.1L156.9,991.2L159.7,992.4L162.6,993.4L165.4,994.5L168.3,995.5L171.2,996.4L174.1,997.3L177.1,998.1L180.0,998.9L183.0,999.6L185.9,1000.3L188.9,1000.9L191.9,1001.4L194.9,1001.9L197.9,1002.2L200.9,1002.6L203.9,1002.8L206.9,1003.0L209.9,1003.1L212.8,1003.1L215.8,1003.0L218.8,1002.9L221.7,1002.7L224.7,1002.3L227.6,1001.9L230.5,1001.4L233.4,1000.8L236.3,1000.2L239.1,999.4L242.0,998.6L244.8,997.8L247.7,996.9L250.5,996.0L253.3,995.0L256.2,994.0L259.0,993.0L261.8,991.9L264.7,990.9L267.5,989.8L270.4,988.8L273.2,987.8L276.1,986.7L278.9,985.7L281.8,984.8L284.7,983.8L287.6,982.9L290.5,982.0L293.3,981.0L296.2,980.1L299.0,979.1L301.8,978.0L304.6,976.9L307.3,975.7L310.1,974.4L312.7,973.1L315.4,971.8L318.0,970.3L320.6,968.9L323.2,967.4L325.7,965.8L328.2,964.3L330.7,962.6L333.2,961.0L335.6,959.3L338.0,957.5L340.4,955.8L342.8,954.0L345.2,952.1L347.5,950.3L349.9,948.4L352.2,946.5L354.5,944.6L356.8,942.6L359.1,940.7L361.3,938.7L363.6,936.7L365.8,934.7L368.0,932.7L370.2,930.7L372.4,928.7L374.6,926.7L376.8,924.6L379.0,922.5L381.2,920.5L383.3,918.4L385.4,916.3L387.6,914.2L389.7,912.1L391.8,909.9L393.9,907.8L396.0,905.7L398.1,903.5L400.2,901.3L402.2,899.2L404.3,897.0L406.3,894.8L408.4,892.6L410.4,890.4L412.5,888.2L414.5,886.0L416.5,883.7L418.5,881.5L420.5,879.3L422.5,877.0L424.5,874.8L426.5,872.5L428.4,870.3L430.4,868.0L432.4,865.7L434.3,863.4L436.3,861.2L438.2,858.9L440.2,856.6L442.1,854.3L444.0,852.0L446.0,849.7L447.9,847.4L449.8,845.1L451.7,842.8L453.6,840.4L455.5,838.1L457.4,835.8L459.3,833.5L461.2,831.1L463.1,828.8L465.0,826.4L466.8,824.1L468.7,821.7L470.5,819.4L472.4,817.0L474.2,814.6L476.0,812.3L477.8,809.9L479.6,807.5L481.4,805.1L483.2,802.7L484.9,800.3L486.7,797.8L488.4,795.4L490.1,793.0L491.9,790.5L493.6,788.1L495.3,785.6L496.9,783.1L498.6,780.6L500.2,778.2L501.9,775.7L503.5,773.1L505.1,770.6L506.6,768.1L508.2,765.6L509.8,763.0L511.3,760.4L512.8,757.9L514.3,755.3L515.8,752.7L517.2,750.1L518.7,747.5L520.1,744.9L521.5,742.2L522.9,739.6L524.3,737.0L525.7,734.3L527.1,731.6L528.5,729.0L529.8,726.3L531.2,723.6L532.5,720.9L533.8,718.3L535.1,715.6L536.5,712.9L537.8,710.2L539.1,707.5L540.4,704.8L541.7,702.1L543.0,699.4L544.3,696.7L545.6,693.9L546.9,691.2L548.2,688.5L549.4,685.8L550.7,683.1L552.0,680.4L553.3,677.7L554.6,675.0L555.9,672.3L557.2,669.6L558.5,666.9L559.8,664.1L561.1,661.4L562.4,658.7L563.7,656.0L564.9,653.3L566.2,650.6L567.5,647.9L568.8,645.1L570.0,642.4L571.3,639.7L572.6,637.0L573.8,634.3L575.1,631.5L576.3,628.8L577.5,626.1L578.8,623.3L580.0,620.6L581.2,617.9L582.4,615.1L583.7,612.4L584.9,609.7L586.1,606.9L587.2,604.2L588.4,601.4L589.6,598.7L590.8,595.9L591.9,593.1L593.1,590.4L594.2,587.6L595.4,584.9L596.5,582.1L597.6,579.3L598.7,576.5L599.8,573.7L600.9,571.0L601.9,568.2L603.0,565.4L604.0,562.6L605.1,559.8L606.1,557.0L607.1,554.2L608.1,551.4L609.1,548.5L610.1,545.7L611.1,542.9L612.0,540.1L613.0,537.2L613.9,534.4L614.8,531.6L615.7,528.7L616.7,525.9L617.5,523.0L618.4,520.2L619.3,517.3L620.2,514.5L621.0,511.6L621.9,508.7L622.7,505.9L623.5,503.0L624.4,500.1L625.2,497.2L626.0,494.4L626.8,491.5L627.5,488.6L628.3,485.7L629.1,482.8L629.8,479.9L630.6,477.0L631.3,474.1L632.1,471.2L632.8,468.3L633.5,465.4L634.2,462.5L634.9,459.6L635.6,456.7L636.3,453.8L637.0,450.8L637.7,447.9L638.4,445.0L639.0,442.1L639.7,439.1L640.3,436.2L641.0,433.3L641.6,430.4L642.2,427.4L642.9,424.5L643.5,421.5L644.1,418.6L644.7,415.7L645.3,412.7L645.9,409.8L646.5,406.8L647.1,403.9L647.7,400.9L648.3,398.0L648.8,395.0L649.4,392.1L650.0,389.1L650.5,386.2L651.1,383.2L651.6,380.3L652.2,377.3L652.7,374.4L653.3,371.4L653.8,368.4L654.4,365.5L654.9,362.5L655.4,359.6L655.9,356.6L656.5,353.6L657.0,350.7L657.5,347.7L658.0,344.8L658.5,341.8L659.1,338.8L659.6,335.9L660.1,332.9L660.6,330.0L661.1,327.0L661.6,324.0L662.1,321.1L662.6,318.1L663.1,315.1L663.6,312.2L664.1,309.2L664.6,306.3L665.1,303.3L665.6,300.3L666.1,297.4L666.6,294.4L667.1,291.5L667.6,288.5L668.1,285.5L668.5,282.6L669.0,279.6L669.5,276.7L670.0,273.7L670.5,270.8L671.0,267.8L671.5,264.9L672.0,261.9L672.5,259.0L673.0,256.0L673.5,253.1L674.1,250.1L674.6,247.2L675.1,244.2L675.6,241.3L676.1,238.4L676.6,235.4L677.1,232.5L677.7,229.6L678.2,226.6L678.7,223.7L679.2,220.8L679.8,217.8L680.3,214.9L680.9,212.0L681.4,209.1L681.9,206.2L682.5,203.2L683.1,200.3L683.6,197.4L684.2,194.5L684.7,191.6L685.3,188.7L685.9,185.8L686.5,182.9L687.1,180.0L687.7,177.1L688.3,174.1L688.9,171.2L689.5,168.3L690.1,165.4L690.7,162.5L691.3,159.5L692.0,156.6L692.6,153.7L693.3,150.7L693.9,147.8L694.6,144.8L695.3,141.8L696.0,138.9L696.7,135.9L697.4,132.9L698.1,129.9L698.8,126.9L699.5,123.8L700.3,120.8L701.0,117.8L701.8,114.7L702.5,111.6L703.3,108.5L704.1,105.5L705.0,102.4L705.9,99.4L706.9,96.6L708.1,93.9L709.5,91.4L711.0,89.2L712.8,87.3L714.9,85.8L717.2,84.7L719.5,84.4L721.7,85.2L723.7,86.8L725.5,89.0L727.2,91.5L728.5,94.2L729.7,97.0L730.7,99.9L731.6,102.8L732.4,105.8L733.1,108.7L733.8,111.7L734.5,114.7L735.1,117.7L735.8,120.7L736.4,123.7L737.1,126.7L737.7,129.6L738.3,132.6L738.9,135.6L739.5,138.6L740.1,141.5L740.6,144.5L741.2,147.5L741.7,150.4L742.3,153.4L742.8,156.3L743.3,159.3L743.8,162.3L744.3,165.2L744.8,168.2L745.3,171.1L745.8,174.1L746.3,177.0L746.8,180.0L747.2,182.9L747.7,185.9L748.2,188.8L748.6,191.8L749.1,194.8L749.6,197.7L750.0,200.7L750.5,203.6L750.9,206.6L751.4,209.5L751.8,212.5L752.3,215.4L752.7,218.4L753.2,221.3L753.6,224.3L754.0,227.3L754.5,230.2L754.9,233.2L755.3,236.1L755.8,239.1L756.2,242.1L756.6,245.0L757.1,248.0L757.5,250.9L757.9,253.9L758.4,256.9L758.8,259.8L759.2,262.8L759.6,265.7L760.1,268.7L760.5,271.7L760.9,274.6L761.3,277.6L761.7,280.6L762.2,283.5L762.6,286.5L763.0,289.5L763.4,292.4L763.8,295.4L764.2,298.3L764.7,301.3L765.1,304.3L765.5,307.2L765.9,310.2L766.3,313.2L766.7,316.1L767.1,319.1L767.5,322.1L768.0,325.0L768.4,328.0L768.8,331.0L769.2,334.0L769.6,336.9L770.0,339.9L770.4,342.9L770.8,345.8L771.2,348.8L771.6,351.8L772.0,354.7L772.5,357.7L772.9,360.7L773.3,363.6L773.7,366.6L774.1,369.6L774.5,372.5L774.9,375.5L775.3,378.5L775.7,381.5L776.1,384.4L776.5,387.4L776.9,390.4L777.4,393.3L777.8,396.3L778.2,399.3L778.6,402.2L779.0,405.2L779.4,408.2L779.8,411.2L780.2,414.1L780.6,417.1L781.1,420.1L781.5,423.0L781.9,426.0L782.3,429.0L782.7,431.9L783.1,434.9L783.6,437.9L784.0,440.8L784.4,443.8L784.8,446.8L785.2,449.8L785.7,452.7L786.1,455.7L786.5,458.7L786.9,461.6L787.4,464.6L787.8,467.6L788.2,470.5L788.7,473.5L789.1,476.5L789.5,479.4L790.0,482.4L790.4,485.4L790.8,488.3L791.3,491.3L791.7,494.3L792.2,497.2L792.6,500.2L793.0,503.2L793.5,506.1L793.9,509.1L794.4,512.1L794.8,515.0L795.3,518.0L795.7,520.9L796.2,523.9L796.7,526.9L797.1,529.8L797.6,532.8L798.0,535.8L798.5,538.7L799.0,541.7L799.4,544.6L799.9,547.6L800.4,550.6L800.9,553.5L801.3,556.5L801.8,559.4L802.3,562.4L802.8,565.4L803.3,568.3L803.8,571.3L804.3,574.2L804.8,577.2L805.2,580.1L805.7,583.1L806.2,586.1L806.8,589.0L807.3,592.0L807.8,594.9L808.3,597.9L808.8,600.8L809.3,603.8L809.8,606.7L810.4,609.7L810.9,612.6L811.4,615.6L812.0,618.5L812.5,621.5L813.0,624.4L813.6,627.4L814.1,630.3L814.7,633.2L815.2,636.2L815.8,639.1L816.3,642.1L816.9,645.0L817.5,648.0L818.1,650.9L818.6,653.8L819.2,656.8L819.8,659.7L820.4,662.7L821.0,665.6L821.6,668.5L822.2,671.5L822.8,674.4L823.4,677.3L824.0,680.2L824.6,683.2L825.3,686.1L825.9,689.0L826.5,692.0L827.2,694.9L827.8,697.8L828.5,700.7L829.1,703.7L829.8,706.6L830.4,709.5L831.1,712.4L831.8,715.3L832.4,718.3L833.1,721.2L833.8,724.1L834.5,727.0L835.2,729.9L835.9,732.8L836.6,735.7L837.3,738.6L838.1,741.5L838.8,744.4L839.5,747.4L840.3,750.3L841.0,753.2L841.7,756.1L842.5,759.0L843.2,761.9L844.0,764.8L844.8,767.7L845.5,770.6L846.3,773.5L847.1,776.3L847.9,779.2L848.6,782.1L849.4,785.0L850.2,787.9L851.0,790.8L851.8,793.7L852.6,796.6L853.4,799.5L854.2,802.4L855.1,805.3L855.9,808.1L856.7,811.0L857.5,813.9L858.3,816.8L859.2,819.7L860.0,822.6L860.8,825.5L861.7,828.3L862.5,831.2L863.3,834.1L864.2,837.0L865.0,839.9L865.9,842.7L866.8,845.6L867.6,848.5L868.5,851.4L869.4,854.2L870.3,857.1L871.2,860.0L872.1,862.8L873.0,865.7L874.0,868.5L874.9,871.4L875.9,874.2L876.8,877.0L877.8,879.8L878.8,882.7L879.9,885.5L880.9,888.3L881.9,891.1L883.0,893.9L884.1,896.6L885.2,899.4L886.3,902.2L887.5,904.9L888.7,907.7L889.8,910.4L891.1,913.1L892.3,915.9L893.6,918.6L894.8,921.3L896.1,924.0L897.5,926.6L898.8,929.3L900.2,931.9L901.6,934.6L903.0,937.2L904.4,939.8L905.9,942.4L907.4,945.0L908.9,947.6L910.4,950.2L912.0,952.7L913.6,955.3L915.2,957.8L916.8,960.3L918.5,962.8L920.1,965.3L921.8,967.7L923.6,970.2L925.3,972.6L927.1,975.1L928.9,977.5L930.7,979.9L932.5,982.3L934.4,984.6L936.3,987.0L938.2,989.3L940.2,991.6L942.1,993.9L944.1,996.2L946.2,998.5L948.2,1000.7L950.3,1002.9L952.4,1005.0L954.6,1007.1L956.8,1009.2L959.0,1011.2L961.2,1013.1L963.5,1015.0L965.9,1016.9L968.3,1018.6L970.7,1020.3L973.2,1021.9L975.7,1023.5L978.3,1024.9L980.9,1026.3L983.6,1027.6L986.3,1028.9L989.0,1030.0L991.8,1031.1L994.6,1032.2L997.4,1033.2L1000.2,1034.1L1003.1,1035.1L1006.0,1035.9L1008.9,1036.8L1011.8,1037.6L1014.7,1038.4L1017.6,1039.1L1020.5,1039.9L1023.4,1040.6L1026.4,1041.3L1029.3,1041.9L1032.2,1042.6L1035.2,1043.2L1038.1,1043.8L1041.0,1044.4L1044.0,1044.9L1046.9,1045.5L1049.9,1046.0L1052.8,1046.5L1055.8,1047.0L1058.8,1047.5L1061.7,1047.9L1064.7,1048.3L1067.7,1048.8L1070.6,1049.2L1073.6,1049.5L1076.6,1049.9L1079.6,1050.3L1082.5,1050.6L1085.5,1050.9L1088.5,1051.3L1091.5,1051.6L1094.4,1051.9L1097.4,1052.1L1100.4,1052.4L1103.4,1052.6L1106.4,1052.9L1109.4,1053.1L1112.3,1053.3L1115.3,1053.5L1118.3,1053.7L1121.3,1053.9L1124.3,1054.1L1127.3,1054.3L1130.3,1054.4L1133.2,1054.6L1136.2,1054.7L1139.2,1054.8L1142.2,1054.9L1145.2,1055.1L1148.2,1055.2L1151.2,1055.2L1154.2,1055.3L1157.2,1055.4L1160.2,1055.5L1163.2,1055.5L1166.2,1055.6L1169.1,1055.6L1172.1,1055.7L1175.1,1055.7L1178.1,1055.7L1181.1,1055.7L1184.1,1055.8L1187.1,1055.8L1190.1,1055.8L1193.1,1055.8L1196.1,1055.7L1199.1,1055.7L1202.1,1055.7L1205.1,1055.7L1208.1,1055.7L1211.1,1055.6L1214.1,1055.6L1217.1,1055.6L1220.1,1055.5L1223.1,1055.5L1226.1,1055.4L1229.1,1055.4L1232.1,1055.3L1235.1,1055.2L1238.1,1055.2L1241.1,1055.1L1244.1,1055.1L1247.1,1055.0L1250.1,1054.9L1253.1,1054.9L1256.1,1054.8L1259.1,1054.7L1262.1,1054.7L1265.1,1054.6L1268.1,1054.5L1271.1,1054.5L1274.1,1054.4L1277.1,1054.3L1280.1,1054.3L1283.1,1054.2L1286.1,1054.1L1289.1,1054.1L1292.1,1054.0L1295.1,1054.0L1298.1,1053.9L1301.1,1053.9L1304.1,1053.8L1307.1,1053.8L1310.1,1053.7L1313.1,1053.7L1316.1,1053.6L1319.1,1053.6L1322.1,1053.6L1325.1,1053.6L1328.1,1053.5L1331.1,1053.5L1334.1,1053.5L1337.1,1053.5L1340.1,1053.5L1343.1,1053.5L1346.1,1053.5L1349.1,1053.5L1352.1,1053.6L1355.1,1053.6L1358.0,1053.6L1361.0,1053.7L1364.0,1053.7L1367.0,1053.8L1370.0,1053.9L1373.0,1053.9L1376.0,1054.0" stroke="#0ff"/>
<path d="M133.0,1010.4L135.8,1011.5L138.6,1012.6L141.4,1013.6L144.3,1014.7L147.1,1015.7L150.0,1016.6L152.8,1017.5L155.7,1018.4L158.6,1019.3L161.5,1020.2L164.3,1021.0L167.2,1021.7L170.1,1022.5L173.1,1023.2L176.0,1023.9L178.9,1024.6L181.8,1025.2L184.8,1025.8L187.7,1026.4L190.7,1026.9L193.6,1027.4L196.6,1027.9L199.5,1028.4L202.5,1028.8L205.5,1029.2L208.4,1029.5L211.4,1029.9L214.4,1030.2L217.4,1030.5L220.4,1030.7L223.4,1030.9L226.3,1031.1L229.3,1031.3L232.3,1031.4L235.3,1031.5L238.3,1031.6L241.3,1031.6L244.3,1031.7L247.3,1031.6L250.3,1031.6L253.3,1031.5L256.3,1031.4L259.3,1031.3L262.3,1031.2L265.3,1031.0L268.3,1030.8L271.3,1030.6L274.3,1030.3L277.3,1030.0L280.2,1029.7L283.2,1029.3L286.2,1029.0L289.2,1028.6L292.2,1028.1L295.1,1027.7L298.1,1027.2L301.0,1026.7L304.0,1026.2L306.9,1025.6L309.9,1025.0L312.8,1024.4L315.8,1023.7L318.7,1023.1L321.6,1022.4L324.5,1021.6L327.4,1020.9L330.3,1020.1L333.2,1019.3L336.1,1018.4L339.0,1017.6L341.8,1016.7L344.7,1015.8L347.5,1014.8L350.4,1013.8L353.2,1012.8L356.0,1011.8L358.8,1010.7L361.6,1009.6L364.4,1008.5L367.1,1007.3L369.9,1006.2L372.6,1005.0L375.4,1003.7L378.1,1002.5L380.8,1001.2L383.5,999.8L386.2,998.5L388.8,997.1L391.5,995.7L394.1,994.3L396.7,992.8L399.3,991.3L401.9,989.8L404.5,988.2L407.0,986.6L409.5,985.0L412.1,983.4L414.6,981.7L417.0,980.0L419.5,978.3L421.9,976.5L424.4,974.7L426.7,972.9L429.1,971.0L431.4,969.1L433.7,967.2L436.0,965.2L438.2,963.2L440.4,961.1L442.5,959.0L444.6,956.8L446.6,954.6L448.5,952.4L450.4,950.1L452.2,947.7L454.0,945.3L455.7,942.9L457.3,940.4L458.9,937.8L460.4,935.2L461.9,932.6L463.3,930.0L464.8,927.3L466.1,924.6L467.5,921.9L468.8,919.2L470.1,916.5L471.4,913.7L472.6,911.0L473.9,908.2L475.1,905.5L476.3,902.7L477.5,900.0L478.7,897.2L479.9,894.4L481.1,891.7L482.3,888.9L483.4,886.2L484.6,883.4L485.7,880.6L486.9,877.8L488.0,875.1L489.1,872.3L490.2,869.5L491.3,866.7L492.3,863.9L493.4,861.2L494.5,858.4L495.5,855.6L496.6,852.8L497.6,850.0L498.6,847.2L499.6,844.3L500.6,841.5L501.6,838.7L502.6,835.9L503.6,833.1L504.5,830.2L505.5,827.4L506.4,824.6L507.4,821.7L508.3,818.9L509.2,816.0L510.2,813.1L511.1,810.3L512.0,807.4L512.9,804.5L513.8,801.7L514.7,798.8L515.6,795.9L516.5,793.1L517.5,790.2L518.4,787.3L519.3,784.5L520.3,781.6L521.2,778.8L522.2,775.9L523.1,773.1L524.1,770.2L525.1,767.4L526.1,764.6L527.2,761.7L528.2,758.9L529.3,756.1L530.4,753.3L531.5,750.6L532.7,747.8L533.8,745.0L535.0,742.3L536.3,739.6L537.5,736.9L538.8,734.2L540.1,731.5L541.5,728.8L542.9,726.2L544.3,723.5L545.8,720.9L547.3,718.3L548.8,715.7L550.4,713.2L551.9,710.6L553.6,708.1L555.2,705.5L556.8,703.0L558.4,700.5L560.1,697.9L561.7,695.4L563.3,692.9L564.9,690.3L566.4,687.7L567.9,685.2L569.4,682.6L570.9,680.0L572.3,677.3L573.6,674.7L574.9,672.0L576.2,669.3L577.4,666.6L578.6,663.9L579.8,661.2L580.9,658.4L581.9,655.6L583.0,652.8L584.0,650.0L584.9,647.2L585.8,644.4L586.7,641.5L587.6,638.7L588.4,635.8L589.2,632.9L590.0,630.0L590.8,627.1L591.5,624.2L592.2,621.3L592.9,618.4L593.6,615.5L594.3,612.5L594.9,609.6L595.5,606.7L596.1,603.7L596.7,600.7L597.3,597.8L597.9,594.8L598.4,591.9L599.0,588.9L599.5,585.9L600.1,583.0L600.6,580.0L601.1,577.1L601.6,574.1L602.1,571.1L602.6,568.2L603.1,565.2L603.6,562.2L604.1,559.3L604.6,556.3L605.1,553.3L605.5,550.4L606.0,547.4L606.4,544.4L606.9,541.5L607.3,538.5L607.8,535.5L608.2,532.5L608.6,529.6L609.0,526.6L609.4,523.6L609.8,520.7L610.3,517.7L610.6,514.7L611.0,511.7L611.4,508.8L611.8,505.8L612.2,502.8L612.6,499.9L612.9,496.9L613.3,493.9L613.7,490.9L614.0,488.0L614.4,485.0L614.7,482.0L615.1,479.0L615.4,476.1L615.8,473.1L616.1,470.1L616.4,467.1L616.8,464.2L617.1,461.2L617.4,458.2L617.7,455.2L618.1,452.3L618.4,449.3L618.7,446.3L619.0,443.3L619.3,440.4L619.6,437.4L619.9,434.4L620.2,431.4L620.5,428.4L620.8,425.5L621.1,422.5L621.4,419.5L621.7,416.5L621.9,413.5L622.2,410.6L622.5,407.6L622.8,404.6L623.1,401.6L623.4,398.6L623.6,395.7L623.9,392.7L624.2,389.7L624.5,386.7L624.7,383.7L625.0,380.7L625.3,377.7L625.5,374.8L625.8,371.8L626.1,368.8L626.3,365.8L626.6,362.8L626.9,359.8L627.1,356.8L627.4,353.9L627.7,350.9L627.9,347.9L628.2,344.9L628.5,341.9L628.7,338.9L629.0,335.9L629.3,332.9L629.6,329.9L629.8,326.9L630.1,323.9L630.4,320.9L630.6,318.0L630.9,315.0L631.2,312.0L631.5,309.0L631.7,306.0L632.0,303.0L632.3,300.0L632.6,297.0L632.8,294.0L633.1,291.0L633.4,288.0L633.7,285.0L634.0,282.0L634.3,279.0L634.6,276.0L634.9,273.0L635.2,270.0L635.5,267.0L635.8,264.0L636.1,261.0L636.4,258.0L636.7,255.0L637.0,252.0L637.3,249.0L637.6,246.0L637.9,243.0L638.2,240.0L638.5,237.0L638.8,234.0L639.1,231.0L639.5,228.0L639.8,225.1L640.1,222.1L640.4,219.1L640.7,216.1L641.1,213.2L641.4,210.2L641.7,207.2L642.0,204.3L642.4,201.3L642.7,198.3L643.0,195.4L643.4,192.4L643.7,189.5L644.0,186.6L644.4,183.6L644.7,180.7L645.1,177.8L645.4,174.8L645.7,171.9L646.1,169.0L646.4,166.1L646.8,163.2L647.1,160.3L647.5,157.3L647.9,154.4L648.2,151.5L648.6,148.6L649.0,145.6L649.3,142.7L649.7,139.7L650.1,136.7L650.5,133.7L650.9,130.6L651.4,127.6L651.8,124.5L652.2,121.3L652.7,118.2L653.2,115.0L653.7,111.7L654.2,108.5L654.7,105.2L655.3,101.9L655.9,98.7L656.8,95.6L657.8,92.7L659.0,90.0L660.4,87.6L661.9,85.7L663.5,84.7L665.0,84.9L666.3,86.1L667.5,88.3L668.6,90.9L669.7,93.7L670.7,96.6L671.6,99.4L672.5,102.2L673.3,105.1L674.1,108.0L674.8,110.9L675.5,113.8L676.2,116.7L676.8,119.6L677.4,122.6L678.0,125.5L678.5,128.5L679.0,131.5L679.4,134.4L679.9,137.4L680.3,140.4L680.7,143.4L681.1,146.4L681.5,149.4L681.8,152.4L682.2,155.4L682.5,158.4L682.8,161.4L683.1,164.4L683.4,167.4L683.7,170.4L684.0,173.4L684.3,176.4L684.6,179.4L685.0,182.4L685.3,185.4L685.6,188.4L685.9,191.4L686.2,194.4L686.5,197.4L686.8,200.4L687.1,203.4L687.4,206.4L687.7,209.4L688.0,212.4L688.3,215.4L688.6,218.4L688.9,221.4L689.2,224.4L689.5,227.4L689.8,230.4L690.1,233.4L690.4,236.4L690.7,239.3L691.0,242.3L691.3,245.3L691.6,248.3L691.8,251.3L692.1,254.3L692.4,257.3L692.7,260.3L693.0,263.2L693.3,266.2L693.6,269.2L693.9,272.2L694.2,275.2L694.5,278.2L694.7,281.1L695.0,284.1L695.3,287.1L695.6,290.1L695.9,293.1L696.2,296.0L696.4,299.0L696.7,302.0L697.0,305.0L697.3,308.0L697.6,310.9L697.8,313.9L698.1,316.9L698.4,319.9L698.7,322.9L698.9,325.8L699.2,328.8L699.5,331.8L699.8,334.8L700.0,337.8L700.3,340.7L700.6,343.7L700.8,346.7L701.1,349.7L701.4,352.7L701.6,355.7L701.9,358.6L702.2,361.6L702.4,364.6L702.7,367.6L703.0,370.6L703.2,373.6L703.5,376.5L703.7,379.5L704.0,382.5L704.2,385.5L704.5,388.5L704.7,391.5L705.0,394.5L705.2,397.4L705.5,400.4L705.7,403.4L706.0,406.4L706.2,409.4L706.5,412.4L706.7,415.4L707.0,418.4L707.2,421.4L707.5,424.3L707.7,427.3L708.0,430.3L708.2,433.3L708.5,436.3L708.7,439.3L709.0,442.3L709.2,445.3L709.4,448.3L709.7,451.3L709.9,454.3L710.2,457.3L710.4,460.2L710.7,463.2L710.9,466.2L711.2,469.2L711.4,472.2L711.7,475.2L711.9,478.2L712.1,481.2L712.4,484.2L712.6,487.2L712.9,490.2L713.1,493.2L713.4,496.2L713.6,499.2L713.9,502.2L714.2,505.1L714.4,508.1L714.7,511.1L714.9,514.1L715.2,517.1L715.4,520.1L715.7,523.1L716.0,526.1L716.2,529.1L716.5,532.1L716.8,535.1L717.0,538.1L717.3,541.0L717.6,544.0L717.8,547.0L718.1,550.0L718.4,553.0L718.7,556.0L718.9,559.0L719.2,562.0L719.5,565.0L719.8,567.9L720.1,570.9L720.4,573.9L720.7,576.9L721.0,579.9L721.2,582.9L721.5,585.9L721.8,588.8L722.1,591.8L722.5,594.8L722.8,597.8L723.1,600.8L723.4,603.8L723.7,606.7L724.0,609.7L724.3,612.7L724.7,615.7L725.0,618.7L725.3,621.6L725.6,624.6L726.0,627.6L726.3,630.6L726.6,633.6L727.0,636.5L727.3,639.5L727.6,642.5L728.0,645.5L728.3,648.4L728.7,651.4L729.0,654.4L729.4,657.4L729.7,660.3L730.1,663.3L730.5,666.3L730.8,669.3L731.2,672.2L731.5,675.2L731.9,678.2L732.3,681.2L732.6,684.1L733.0,687.1L733.4,690.1L733.8,693.1L734.2,696.0L734.5,699.0L734.9,702.0L735.3,704.9L735.7,707.9L736.1,710.9L736.5,713.9L736.9,716.8L737.3,719.8L737.7,722.8L738.1,725.7L738.5,728.7L738.9,731.7L739.3,734.7L739.7,737.6L740.1,740.6L740.5,743.6L740.9,746.5L741.4,749.5L741.8,752.5L742.2,755.4L742.6,758.4L743.0,761.4L743.5,764.4L743.9,767.3L744.3,770.3L744.8,773.3L745.2,776.2L745.6,779.2L746.1,782.2L746.5,785.1L747.0,788.1L747.4,791.1L747.8,794.1L748.3,797.0L748.7,800.0L749.2,803.0L749.6,805.9L750.1,808.9L750.6,811.9L751.0,814.9L751.5,817.8L752.0,820.8L752.4,823.8L752.9,826.7L753.4,829.7L753.9,832.7L754.4,835.6L754.9,838.6L755.4,841.6L755.9,844.5L756.4,847.5L756.9,850.4L757.5,853.4L758.0,856.3L758.6,859.3L759.1,862.2L759.7,865.2L760.3,868.1L760.9,871.1L761.5,874.0L762.1,876.9L762.7,879.9L763.4,882.8L764.0,885.7L764.7,888.7L765.4,891.6L766.0,894.5L766.7,897.4L767.4,900.3L768.2,903.2L768.9,906.1L769.7,909.0L770.4,911.9L771.2,914.8L772.0,917.7L772.8,920.6L773.7,923.4L774.5,926.3L775.4,929.2L776.3,932.0L777.2,934.9L778.1,937.7L779.0,940.6L780.0,943.4L781.0,946.2L782.0,949.1L783.0,951.9L784.0,954.7L785.1,957.5L786.2,960.3L787.3,963.1L788.4,965.9L789.6,968.7L790.7,971.4L791.9,974.2L793.1,976.9L794.4,979.7L795.7,982.4L797.0,985.1L798.4,987.7L799.9,990.4L801.4,992.9L802.9,995.5L804.6,998.0L806.3,1000.4L808.1,1002.8L809.9,1005.1L811.9,1007.4L813.9,1009.6L816.0,1011.7L818.2,1013.8L820.5,1015.7L822.8,1017.6L825.3,1019.5L827.7,1021.2L830.3,1022.9L832.9,1024.4L835.5,1025.9L838.2,1027.3L840.9,1028.6L843.7,1029.8L846.5,1030.9L849.3,1031.9L852.1,1032.8L855.0,1033.6L857.9,1034.4L860.8,1035.0L863.7,1035.6L866.6,1036.1L869.6,1036.6L872.5,1037.0L875.5,1037.3L878.5,1037.7L881.5,1037.9L884.5,1038.2L887.5,1038.4L890.5,1038.7L893.5,1038.9L896.5,1039.1L899.5,1039.3L902.5,1039.5L905.5,1039.7L908.5,1040.0L911.5,1040.2L914.5,1040.4L917.5,1040.7L920.5,1040.9L923.5,1041.1L926.5,1041.4L929.5,1041.6L932.4,1041.8L935.4,1042.1L938.4,1042.3L941.4,1042.5L944.4,1042.7L947.4,1043.0L950.4,1043.2L953.4,1043.4L956.4,1043.6L959.4,1043.8L962.4,1044.0L965.3,1044.3L968.3,1044.5L971.3,1044.7L974.3,1044.9L977.3,1045.1L980.3,1045.3L983.3,1045.5L986.3,1045.7L989.3,1045.9L992.3,1046.0L995.3,1046.2L998.3,1046.4L1001.3,1046.6L1004.2,1046.8L1007.2,1047.0L1010.2,1047.1L1013.2,1047.3L1016.2,1047.5L1019.2,1047.7L1022.2,1047.8L1025.2,1048.0L1028.2,1048.2L1031.2,1048.3L1034.2,1048.5L1037.2,1048.6L1040.2,1048.8L1043.2,1049.0L1046.2,1049.1L1049.2,1049.3L1052.2,1049.4L1055.1,1049.6L1058.1,1049.7L1061.1,1049.8L1064.1,1050.0L1067.1,1050.1L1070.1,1050.3L1073.1,1050.4L1076.1,1050.5L1079.1,1050.7L1082.1,1050.8L1085.1,1050.9L1088.1,1051.0L1091.1,1051.2L1094.1,1051.3L1097.1,1051.4L1100.1,1051.5L1103.1,1051.6L1106.1,1051.8L1109.1,1051.9L1112.1,1052.0L1115.1,1052.1L1118.1,1052.2L1121.1,1052.3L1124.1,1052.4L1127.1,1052.5L1130.1,1052.6L1133.1,1052.7L1136.1,1052.8L1139.1,1052.9L1142.0,1053.0L1145.0,1053.1L1148.0,1053.2L1151.0,1053.3L1154.0,1053.4L1157.0,1053.4L1160.0,1053.5L1163.0,1053.6L1166.0,1053.7L1169.0,1053.8L1172.0,1053.8L1175.0,1053.9L1178.0,1054.0L1181.0,1054.1L1184.0,1054.1L1187.0,1054.2L1190.0,1054.3L1193.0,1054.3L1196.0,1054.4L1199.0,1054.5L1202.0,1054.5L1205.0,1054.6L1208.0,1054.6L1211.0,1054.7L1214.0,1054.7L1217.0,1054.8L1220.0,1054.9L1223.0,1054.9L1226.0,1055.0L1229.0,1055.0L1232.0,1055.0L1235.0,1055.1L1238.0,1055.1L1241.0,1055.2L1244.0,1055.2L1247.0,1055.3L1250.0,1055.3L1253.0,1055.3L1256.0,1055.4L1259.0,1055.4L1262.0,1055.4L1265.0,1055.5L1268.0,1055.5L1271.0,1055.5L1274.0,1055.5L1277.0,1055.6L1280.0,1055.6L1283.0,1055.6L1286.0,1055.6L1289.0,1055.6L1292.0,1055.7L1295.0,1055.7L1298.0,1055.7L1301.0,1055.7L1304.0,1055.7L1307.0,1055.7L1310.0,1055.7L1313.0,1055.8L1316.0,1055.8L1319.0,1055.8L1322.0,1055.8L1325.0,1055.8L1328.0,1055.8L1331.0,1055.8L1334.0,1055.8L1337.0,1055.8L1340.0,1055.8L1343.0,1055.8L1346.0,1055.8L1349.0,1055.8L1352.0,1055.8L1355.0,1055.8L1358.0,1055.8L1361.0,1055.7L1364.0,1055.7L1367.0,1055.7L1370.0,1055.7L1373.0,1055.7L1376.0,1055.7" stroke="#f00"/>
<path d="M555.0,1051.4L557.5,1051.5L560.0,1050.5L562.5,1052.3L565.0,1050.0L567.5,1050.0L570.0,1049.6L572.6,1050.7L575.1,1048.0L577.7,1047.9L580.3,1048.2L582.9,1047.4L585.4,1046.2L588.0,1046.9L590.1,1046.0L592.2,1045.1L594.3,1045.2L596.4,1043.9L598.5,1041.4L600.6,1041.5L602.7,1042.6L604.8,1040.6L607.2,1040.2L609.6,1034.4L612.0,1033.7L614.0,1033.5L616.0,1030.8L618.0,1031.0L620.0,1027.7L622.0,1025.4L624.0,1024.1L626.0,1021.4L628.0,1020.9L630.0,1017.5L631.8,1013.2L633.5,1007.2L635.3,1002.0L637.8,995.5L640.4,990.0L642.2,986.0L644.0,981.9L645.8,978.0L647.1,973.1L648.5,966.0L650.6,960.0L653.0,954.0L654.5,947.0L656.0,942.0L657.4,936.0L658.7,930.0L660.5,924.8L662.4,920.0L664.8,904.9L667.2,890.0L669.5,875.4L671.7,860.0L673.9,850.4L676.2,842.5L678.4,830.0L680.8,812.0L682.4,800.0L683.7,793.8L685.0,788.0L686.4,782.2L687.8,770.0L689.0,752.0L690.8,740.0L692.9,724.3L695.0,710.0L697.0,693.9L699.0,680.0L700.3,665.2L701.6,650.0L703.2,635.8L704.8,620.0L707.2,590.0L708.8,572.0L710.3,578.5L711.9,560.0L713.6,530.0L715.4,516.4L717.1,510.3L718.9,500.0L721.1,470.0L723.1,440.0L724.3,430.0L726.3,427.3L728.3,418.0L729.3,405.0L731.0,380.0L732.9,350.0L734.4,328.2L735.9,320.0L737.7,305.0L739.5,290.0L741.0,281.0L742.5,272.0L744.9,260.0L746.2,229.2L747.5,230.0L749.6,211.9L751.2,215.2L752.8,199.9L755.2,187.9L757.2,169.9L759.0,169.6L760.9,158.0L762.6,143.1L764.4,140.0L766.0,128.0L767.0,108.0L768.8,104.0L770.5,100.0L773.0,94.4L775.4,119.6L776.7,109.8L778.0,100.0L779.4,92.0L780.8,84.0L782.8,89.0L784.7,93.9L786.0,95.7L787.4,97.5L789.5,103.5L791.6,106.0L793.4,113.6L795.5,121.0L797.0,116.0L799.3,122.5L801.4,119.5L802.3,134.0L804.8,152.6L807.4,160.8L809.8,184.7L812.2,190.6L814.6,194.3L817.0,206.4L819.4,213.4L821.2,213.8L823.0,242.0L825.4,266.4L827.8,261.2L829.5,278.1L831.3,292.3L833.1,294.9L834.9,304.3L837.3,321.0L839.7,344.3L842.1,333.0L843.3,349.7L845.1,353.2L846.9,345.1L848.7,361.3L849.7,380.5L851.8,379.3L854.0,368.1L856.1,387.0L857.7,409.5L859.3,414.6L861.1,418.3L862.8,422.8L864.6,436.0L866.8,450.9L868.9,462.3L871.1,443.4L873.2,459.4L875.8,472.0L877.8,481.8L879.8,467.4L881.8,488.7L884.2,507.8L886.4,505.1L888.5,503.3L890.7,526.2L892.8,530.9L895.0,519.8L897.4,526.8L899.7,538.9L901.8,550.0L903.9,547.1L906.0,557.5L908.1,558.0L910.5,553.6L912.9,560.4L914.7,553.8L916.5,572.4L918.9,564.0L921.2,584.7L923.6,586.7L926.0,614.2L928.4,613.0L930.5,615.5L932.6,610.5L934.7,628.4L936.8,615.4L938.9,620.1L941.0,622.1L943.1,626.1L945.2,627.3L947.6,630.5L950.0,633.5L952.3,629.9L954.7,644.0L957.1,658.4L959.5,664.2L961.9,662.6L964.3,673.7L966.7,668.0L969.1,673.9L971.5,684.7L973.9,680.5L976.2,701.5L978.6,709.2L981.0,718.2L983.0,730.7L985.0,718.9L987.0,723.0L988.8,729.3L990.6,746.9L993.0,742.2L995.4,745.8L997.7,753.1L1000.1,757.6L1002.5,773.0L1004.9,767.1L1007.3,784.5L1009.7,776.7L1011.5,781.0L1013.3,788.7L1015.7,791.7L1018.1,801.9L1020.5,795.9L1022.9,810.0L1025.3,823.2L1027.6,818.1L1030.0,824.0L1032.4,830.8L1034.8,837.9L1037.2,837.7L1039.6,843.7L1041.7,837.0L1043.8,853.2L1045.8,857.4L1047.9,855.6L1049.7,865.0L1051.5,870.0L1053.9,867.2L1056.3,873.0L1058.7,872.9L1061.1,876.4L1063.5,886.5L1065.9,881.9L1068.3,893.8L1070.7,893.7L1073.0,897.2L1075.4,898.7L1077.8,905.0L1080.2,904.6L1082.6,907.3L1085.0,910.6L1087.4,909.5L1089.8,914.7L1092.2,926.5L1094.6,923.3L1097.0,921.4L1099.6,921.4L1102.2,922.4L1104.8,922.2L1107.3,929.5L1109.9,931.2L1112.5,931.0L1114.9,928.9L1117.2,942.1L1119.6,941.9L1122.0,948.9L1124.2,956.5L1126.3,952.4L1128.5,960.6L1130.6,952.6L1132.8,956.0L1135.2,954.5L1137.6,956.7L1140.0,959.6L1142.4,954.8L1144.8,960.5L1147.2,956.2L1149.5,965.5L1151.9,968.0L1154.3,968.1L1156.7,966.2L1159.1,965.3L1161.5,975.2L1163.9,966.4L1166.3,968.0L1168.7,965.5L1171.1,972.5L1173.4,971.4L1175.8,971.5L1178.2,972.8L1180.6,981.3L1183.0,983.5L1185.4,984.6L1187.8,983.3L1190.2,981.0L1192.6,987.2L1195.0,987.0L1197.4,988.3L1200.0,988.4L1202.0,986.4L1204.0,987.8L1206.0,989.6L1208.0,989.6L1210.0,994.4L1212.0,995.6L1214.0,992.4L1216.0,990.5L1218.0,998.0L1220.2,997.1L1222.4,990.6L1224.6,994.4L1226.4,989.6L1228.2,1000.6L1230.0,1001.6L1232.0,999.6L1234.0,1004.6L1236.0,1003.4L1237.8,1001.3L1239.6,999.0L1241.4,1002.8L1243.5,999.6L1245.6,1005.2L1247.4,1002.5L1249.2,1003.4L1251.6,1004.5L1254.0,1007.6L1256.0,1005.1L1258.0,1007.4L1260.0,1008.8L1261.8,1002.5L1263.6,1007.0L1265.6,1008.5L1267.6,1003.6L1269.6,1011.2L1271.9,1010.5L1274.3,1011.2L1276.7,1016.9L1279.1,1017.8L1281.5,1021.1L1283.9,1017.2L1286.3,1022.5L1288.7,1011.2L1291.1,1016.0L1293.5,1020.3L1295.9,1019.6L1298.3,1025.3L1300.7,1023.2L1303.1,1025.2L1305.5,1020.8L1307.5,1018.2L1309.5,1022.9L1311.5,1022.0L1313.7,1026.3L1315.9,1013.5L1318.1,1016.6L1319.9,1021.9L1321.7,1027.7L1323.5,1028.0L1325.3,1025.2L1327.1,1026.8L1329.2,1026.8L1331.3,1023.2L1333.5,1022.0L1335.7,1025.1L1337.9,1029.8L1339.9,1026.3L1341.9,1028.4L1343.9,1026.8L1346.3,1027.3L1348.7,1031.3L1351.1,1029.2L1353.5,1027.6L1355.9,1031.6L1358.3,1033.0L1360.7,1035.2L1363.1,1036.2L1365.5,1031.6L1367.9,1031.5L1370.3,1028.0L1372.2,1025.6L1374.1,1033.2L1376.0,1032.8" stroke="#f00"/>
</g>
<g class="legend">
<line x1="185" y1="129" x2="283" y2="129" stroke="#000"/>
<line x1="185" y1="183" x2="283" y2="183" stroke="#0ff"/>
<line x1="185" y1="237" x2="283" y2="237" stroke="#f00"/>
<text x="294" y="144" font-size="45">4</text>
<text x="294" y="198" font-size="45">6a</text>
<text x="294" y="252" font-size="45">6b</text>
</g>
<g class="labels">
<text class="tl" x="133.8" y="1130" font-size="55" text-anchor="middle">400</text>
<text class="tl" x="630" y="1130" font-size="55" text-anchor="middle">500</text>
<text class="tl" x="1125.6" y="1130" font-size="55" text-anchor="middle">600</text>
<text x="755" y="1205.5" font-size="66" text-anchor="middle">wavelength (nm)</text>
<text transform="translate(80.3,598) rotate(-90)" font-size="62.5" text-anchor="middle">Normalized absorbance</text>
<text transform="translate(1460.2,598.5) rotate(-90)" font-size="62.5" text-anchor="middle">Normalized emission</text>
</g>
</svg>
</body></html>
